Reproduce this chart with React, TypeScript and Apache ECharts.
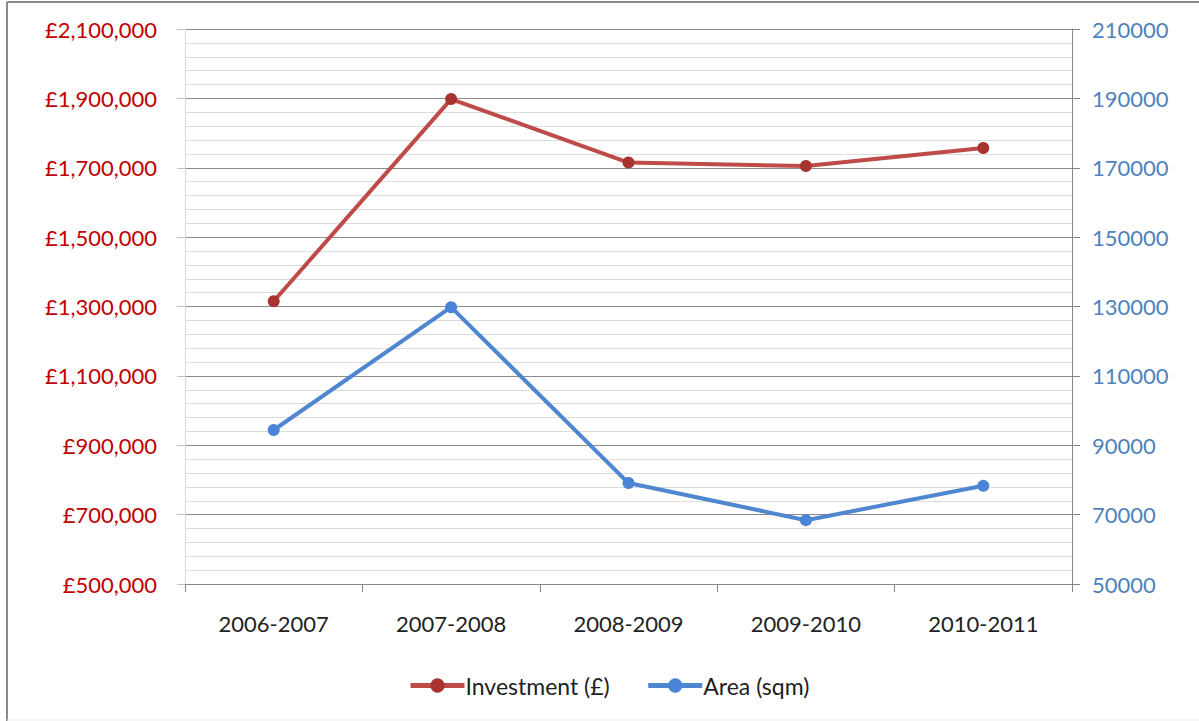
import React, { useEffect, useRef } from "react";
import * as echarts from "echarts";

const categories = ["2006-2007", "2007-2008", "2008-2009", "2009-2010", "2010-2011"];
const investment = [1315000, 1898000, 1715000, 1705000, 1757000];
const area = [94400, 129800, 79100, 68400, 78300];

const leftMin = 500000;
const leftMax = 2100000;
const leftInterval = 200000;
const rightMin = 50000;
const rightMax = 210000;
const rightInterval = 20000;

const FONT = "Lato, 'Open Sans', sans-serif";

function fmtPound(v: number) {
  return "£" + v.toLocaleString("en-GB");
}

export default function App() {
  const ref = useRef<HTMLDivElement>(null);
  useEffect(() => {
    if (!ref.current) return;
    const chart = echarts.init(ref.current, undefined, { renderer: "svg" });
    chart.setOption({
      animation: false,
      backgroundColor: "#ffffff",
      textStyle: { fontFamily: FONT },
      graphic: [
        { type: "line", shape: { x1: 7, y1: 2, x2: 1199, y2: 2 }, style: { stroke: "#8a8a8a", lineWidth: 2 } },
        { type: "line", shape: { x1: 7, y1: 2, x2: 7, y2: 721 }, style: { stroke: "#8a8a8a", lineWidth: 2 } },
        { type: "line", shape: { x1: 7, y1: 720, x2: 1199, y2: 720 }, style: { stroke: "#eeeeee", lineWidth: 1 } },
      ],
      legend: {
        top: 669,
        left: 403,
        itemWidth: 54,
        itemHeight: 18,
        itemGap: 36,
        lineStyle: { width: 5 },
        textStyle: { fontSize: 23, color: "#222", fontFamily: FONT, padding: [0, 0, 0, -4] },
        data: ["Investment (£)", "Area (sqm)"],
      },
      grid: { left: 185, right: 127, top: 29, bottom: 137 },
      xAxis: {
        type: "category",
        data: categories,
        boundaryGap: true,
        axisLine: { lineStyle: { color: "#868686", width: 1 } },
        axisTick: { show: true, length: 8, lineStyle: { color: "#868686" } },
        axisLabel: { fontSize: 22, color: "#222", margin: 28, fontFamily: FONT },
      },
      yAxis: [
        {
          type: "value",
          min: leftMin,
          max: leftMax,
          interval: leftInterval,
          position: "left",
          axisLine: { show: true, lineStyle: { color: "#d9d9d9" } },
          axisTick: { show: true, length: 8, lineStyle: { color: "#bfbfbf" } },
          axisLabel: { fontSize: 22, color: "#c00000", margin: 28, formatter: (v: number) => fmtPound(v), fontFamily: FONT },
          splitLine: { show: true, lineStyle: { color: "#8c8c8c", width: 1 } },
          minorTick: { show: false, splitNumber: 5 },
          minorSplitLine: { show: true, lineStyle: { color: "#dcdcdc", width: 1 } },
        },
        {
          type: "value",
          min: rightMin,
          max: rightMax,
          interval: rightInterval,
          position: "right",
          axisLine: { show: true, lineStyle: { color: "#868686" } },
          axisTick: { show: true, length: 8, lineStyle: { color: "#868686" } },
          axisLabel: { fontSize: 22, color: "#4f81bd", margin: 20, formatter: (v: number) => String(v), fontFamily: FONT },
          splitLine: { show: false },
        },
      ],
      series: [
        {
          name: "Investment (£)",
          type: "line",
          yAxisIndex: 0,
          data: investment,
          color: "#be4b48",
          symbol: "circle",
          symbolSize: 12,
          lineStyle: { width: 4, color: "#be4b48" },
          itemStyle: { color: "#a8332f" },
        },
        {
          name: "Area (sqm)",
          type: "line",
          yAxisIndex: 1,
          data: area,
          color: "#4a7ebb",
          symbol: "circle",
          symbolSize: 12,
          lineStyle: { width: 4, color: "#4f86d0" },
          itemStyle: { color: "#4a84d6" },
        },
      ],
    });
    return () => chart.dispose();
  }, []);
  return <div ref={ref} style={{ position: "absolute", left: 0, top: 0, width: 1199, height: 721 }} />;
}
